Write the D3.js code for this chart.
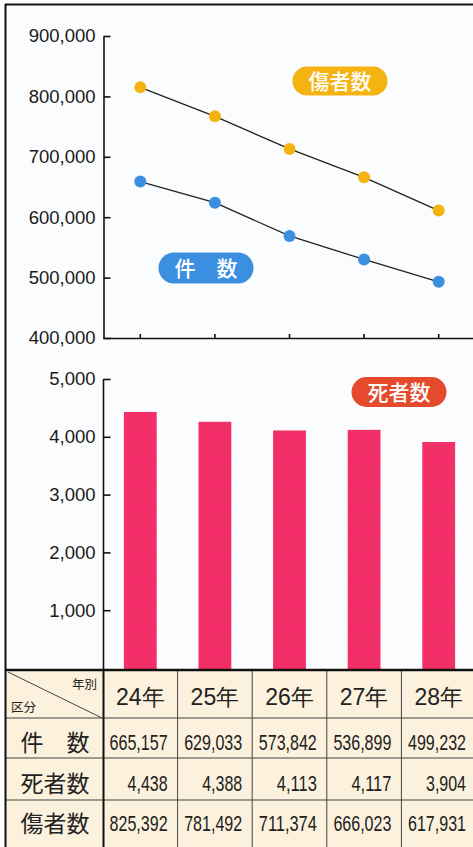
<!DOCTYPE html>
<html><head><meta charset="utf-8">
<script src="https://cdn.jsdelivr.net/npm/d3@7"></script>
<style>body{margin:0;background:#fff}</style>
</head><body><svg id="c" width="473" height="847"></svg>
<script>
// ---- data ----
const years = ["24年", "25年", "26年", "27年", "28年"];
const injuredPlotted = [815000, 767000, 713000, 666000, 611000];
const accidentsPlotted = [659000, 624000, 569000, 530000, 493000];
const deathsPlotted = [4430, 4260, 4110, 4120, 3910];
const topTicks = [400000, 500000, 600000, 700000, 800000, 900000];
const bottomTicks = [1000, 2000, 3000, 4000, 5000];
const rowLabels = ["件　数", "死者数", "傷者数"];
const tableAccidents = ["665,157", "629,033", "573,842", "536,899", "499,232"];
const tableDeaths = ["4,438", "4,388", "4,113", "4,117", "3,904"];
const tableInjured = ["825,392", "781,492", "711,374", "666,023", "617,931"];
const headerCorner = ["年別", "区分"];

// ---- drawing ----
const svg = d3.select("#c");
const LAT = "'Liberation Sans', Arial, sans-serif";
const NAR = "'Liberation Sans Narrow', 'Liberation Sans', Arial, sans-serif";
const CJK = "'Noto Sans CJK JP', sans-serif";

const defs = svg.append("defs");
const pat = defs.append("pattern").attr("id", "stripe").attr("patternUnits", "userSpaceOnUse")
  .attr("width", 4).attr("height", 3);
pat.append("rect").attr("width", 4).attr("height", 3).attr("fill", "#f72a6e");
pat.append("rect").attr("y", 2).attr("width", 4).attr("height", 1).attr("fill", "#e8385c");

// background
svg.append("rect").attr("x", 6).attr("y", 5).attr("width", 467).attr("height", 665).attr("fill", "#fbfcfd");

const x = d3.scaleBand().domain(years).range([103, 476]).padding(0);
const cx = d => x(d) + x.bandwidth() / 2;

// top chart
const yT = d3.scaleLinear().domain([400000, 900000]).range([338, 36]);
const gT = svg.append("g").attr("transform", "translate(103.5,0)")
  .call(d3.axisLeft(yT).tickValues(topTicks).tickSize(-7).tickSizeOuter(0).tickPadding(8).tickFormat(d3.format(",")));
gT.selectAll("text").attr("font-family", LAT).attr("font-size", 18.5).attr("fill", "#1a1a1a");
gT.selectAll("line,path").attr("stroke", "#111").attr("stroke-width", 1.6);

const gX = svg.append("g").attr("transform", "translate(0,338)")
  .call(d3.axisTop(x).tickSize(4).tickSizeOuter(0).tickFormat(""));
gX.selectAll("line,path").attr("stroke", "#111").attr("stroke-width", 1.6);

const line = d3.line().x((d, i) => cx(years[i])).y(d => yT(d));
[[injuredPlotted, "#f5b312"], [accidentsPlotted, "#3b8fe0"]].forEach(([arr, col]) => {
  svg.append("path").attr("d", line(arr)).attr("fill", "none").attr("stroke", "#222").attr("stroke-width", 1.3);
  svg.selectAll(null).data(arr).enter().append("circle")
    .attr("cx", (d, i) => cx(years[i])).attr("cy", d => yT(d)).attr("r", 6).attr("fill", col);
});

function pill(cxp, cyp, w, h, fill, label, fs) {
  svg.append("rect").attr("x", cxp - w / 2).attr("y", cyp - h / 2).attr("width", w).attr("height", h)
    .attr("rx", h / 2).attr("fill", fill);
  svg.append("text").attr("x", cxp).attr("y", cyp).attr("dy", "0.36em").attr("text-anchor", "middle")
    .attr("font-family", CJK).attr("font-size", fs).attr("font-weight", 500).attr("fill", "#fff")
    .attr("xml:space", "preserve").text(label);
}
pill(340, 81, 95, 29, "#f5b312", "傷者数", 21);
pill(206, 268, 95, 31, "#3b8fe0", "件　数", 21);

// bottom chart
const yB = d3.scaleLinear().domain([0, 5000]).range([668, 379]);
const gB = svg.append("g").attr("transform", "translate(103.5,0)")
  .call(d3.axisLeft(yB).tickValues(bottomTicks).tickSize(-7).tickSizeOuter(0).tickPadding(8).tickFormat(d3.format(",")));
gB.selectAll("text").attr("font-family", LAT).attr("font-size", 18.5).attr("fill", "#1a1a1a");
gB.selectAll("line,path").attr("stroke", "#111").attr("stroke-width", 1.6);
gB.select("path.domain").attr("d", "M0,379V670");

const bw = x.bandwidth() * 0.44;
svg.selectAll(null).data(deathsPlotted).enter().append("rect")
  .attr("x", (d, i) => cx(years[i]) - bw / 2).attr("y", d => yB(d))
  .attr("width", bw).attr("height", d => 670 - yB(d)).attr("fill", "url(#stripe)");

pill(399, 392, 95, 30, "#e54a2c", "死者数", 21);

// table
const rowsY = [670, 718, 758, 800, 847];
svg.append("rect").attr("x", 6).attr("y", 670).attr("width", 467).attr("height", 177).attr("fill", "#fbf1dc");
rowsY.slice(1, 4).forEach(yy => svg.append("line").attr("x1", 6).attr("x2", 473).attr("y1", yy).attr("y2", yy)
  .attr("stroke", "#444").attr("stroke-width", 1));
years.slice(1).forEach(c => svg.append("line").attr("x1", x(c)).attr("x2", x(c)).attr("y1", 670).attr("y2", 847)
  .attr("stroke", "#444").attr("stroke-width", 1));
svg.append("line").attr("x1", 103.5).attr("x2", 103.5).attr("y1", 670).attr("y2", 847).attr("stroke", "#111").attr("stroke-width", 2);
svg.append("line").attr("x1", 6).attr("x2", 473).attr("y1", 670).attr("y2", 670).attr("stroke", "#111").attr("stroke-width", 2.5);
svg.append("line").attr("x1", 8).attr("y1", 672).attr("x2", 102).attr("y2", 718).attr("stroke", "#444").attr("stroke-width", 1);
svg.append("text").attr("x", 97).attr("y", 689).attr("text-anchor", "end").attr("font-family", CJK)
  .attr("font-size", 12.5).attr("fill", "#222").text(headerCorner[0]);
svg.append("text").attr("x", 11).attr("y", 712).attr("font-family", CJK)
  .attr("font-size", 12.5).attr("fill", "#222").text(headerCorner[1]);

svg.selectAll(null).data(years).enter().append("text")
  .attr("x", d => cx(d)).attr("y", 705).attr("text-anchor", "middle")
  .attr("font-family", LAT).attr("font-size", 23).attr("fill", "#222")
  .text(d => d);

const labelBase = [751, 792, 832];
rowLabels.forEach((lab, r) => {
  svg.append("text").attr("x", 55).attr("y", labelBase[r]).attr("text-anchor", "middle")
    .attr("font-family", CJK).attr("font-size", 23).attr("fill", "#222")
    .attr("xml:space", "preserve").text(lab);
});

[tableAccidents, tableDeaths, tableInjured].forEach((arr, r) => {
  svg.selectAll(null).data(arr).enter().append("text")
    .attr("x", (d, i) => x(years[i]) + x.bandwidth() - 10).attr("y", labelBase[r] - 1)
    .attr("text-anchor", "end").attr("font-family", NAR).attr("font-size", 22).attr("fill", "#222")
    .attr("textLength", d => d.replace(/,/g, "").length * 9 + 4).attr("lengthAdjust", "spacingAndGlyphs")
    .text(d => d);
});

// outer border
svg.append("line").attr("x1", 5.5).attr("x2", 5.5).attr("y1", 4).attr("y2", 847).attr("stroke", "#111").attr("stroke-width", 2);
svg.append("line").attr("x1", 5).attr("x2", 473).attr("y1", 4.5).attr("y2", 4.5).attr("stroke", "#111").attr("stroke-width", 2);
</script></body></html>
